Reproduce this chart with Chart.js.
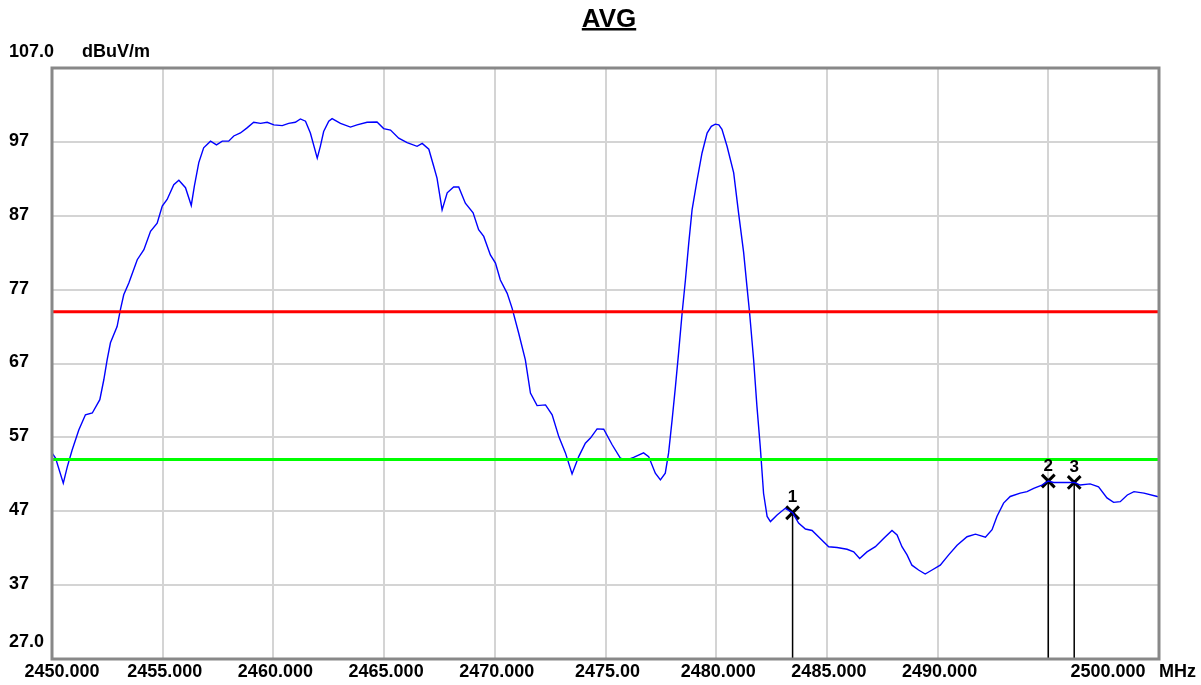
<!DOCTYPE html>
<html>
<head>
<meta charset="utf-8">
<title>AVG</title>
<script src="https://cdn.jsdelivr.net/npm/chart.js@4.4.1/dist/chart.umd.min.js"></script>
<style>
  html, body { margin: 0; padding: 0; background: #fff; }
  #wrap { width: 1201px; height: 685px; }
</style>
</head>
<body>
<div id="wrap"><canvas id="c" width="1201" height="685"></canvas></div>
<script>
// trace (MHz / dBuV/m)
const freqs = [
  2450.00, 2450.16, 2450.51, 2450.69, 2450.91, 2451.21, 2451.51, 2451.82, 2452.16, 2452.34,
  2452.49, 2452.64, 2452.94, 2453.09, 2453.24, 2453.47, 2453.85, 2454.15, 2454.45, 2454.75,
  2454.98, 2455.20, 2455.50, 2455.73, 2456.03, 2456.29, 2456.43, 2456.63, 2456.85, 2457.16,
  2457.43, 2457.69, 2457.98, 2458.21, 2458.51, 2458.81, 2459.11, 2459.42, 2459.72, 2460.02,
  2460.40, 2460.69, 2460.99, 2461.22, 2461.45, 2461.67, 2461.98, 2462.12, 2462.27, 2462.50,
  2462.65, 2463.03, 2463.48, 2463.78, 2464.23, 2464.68, 2464.98, 2465.29, 2465.66, 2466.04,
  2466.49, 2466.72, 2467.02, 2467.24, 2467.39, 2467.62, 2467.85, 2468.14, 2468.37, 2468.67,
  2469.02, 2469.27, 2469.50, 2469.80, 2470.03, 2470.25, 2470.56, 2470.78, 2471.08, 2471.38,
  2471.61, 2471.91, 2472.29, 2472.59, 2472.89, 2473.19, 2473.49, 2473.79, 2474.09, 2474.32,
  2474.62, 2474.92, 2475.30, 2475.67, 2475.97, 2476.27, 2476.72, 2476.95, 2477.25, 2477.48,
  2477.70, 2477.85, 2478.01, 2478.16, 2478.30, 2478.46, 2478.61, 2478.76, 2478.91, 2479.14,
  2479.36, 2479.59, 2479.78, 2479.96, 2480.12, 2480.26, 2480.49, 2480.79, 2481.01, 2481.24,
  2481.39, 2481.51, 2481.69, 2481.84, 2481.99, 2482.14, 2482.30, 2482.45, 2482.75, 2483.12,
  2483.45, 2483.72, 2484.03, 2484.33, 2484.70, 2485.08, 2485.46, 2485.91, 2486.21, 2486.48,
  2486.81, 2487.19, 2487.56, 2487.94, 2488.17, 2488.39, 2488.62, 2488.84, 2489.14, 2489.44,
  2489.75, 2490.12, 2490.50, 2490.88, 2491.33, 2491.71, 2492.16, 2492.46, 2492.68, 2492.98,
  2493.28, 2493.73, 2494.04, 2494.34, 2494.71, 2495.00, 2495.24, 2495.69, 2496.17, 2496.44,
  2496.89, 2497.27, 2497.65, 2497.95, 2498.25, 2498.57, 2498.87, 2499.32, 2499.92, 2500.00
];
const levels = [
  54.9, 54.2, 50.8, 53.0, 55.3, 58.0, 60.05, 60.3, 62.1, 64.8,
  67.5, 69.8, 72.0, 74.3, 76.3, 77.9, 81.05, 82.4, 84.9, 86.0,
  88.3, 89.2, 91.2, 91.8, 90.8, 88.4, 91.0, 94.2, 96.2, 97.1,
  96.6, 97.1, 97.1, 97.8, 98.2, 98.9, 99.65, 99.5, 99.65, 99.3,
  99.2, 99.5, 99.65, 100.1, 99.8, 98.2, 94.8, 96.4, 98.4, 99.8,
  100.15, 99.5, 99.0, 99.3, 99.65, 99.7, 98.8, 98.6, 97.5, 96.9,
  96.4, 96.8, 96.0, 93.7, 92.1, 87.8, 90.1, 90.9, 90.9, 88.7,
  87.4, 85.1, 84.2, 81.7, 80.6, 78.3, 76.5, 74.5, 71.1, 67.5,
  63.0, 61.3, 61.4, 60.05, 57.1, 54.9, 52.05, 54.4, 56.2, 56.9,
  58.15, 58.1, 56.0, 54.2, 53.95, 54.3, 54.9, 54.4, 52.15, 51.25,
  52.15, 54.9, 59.4, 63.9, 68.4, 73.8, 78.3, 83.3, 87.8, 91.9,
  95.5, 98.2, 99.1, 99.4, 99.3, 98.7, 96.4, 92.8, 87.4, 82.0,
  77.4, 73.8, 67.5, 61.2, 55.75, 49.4, 46.3, 45.6, 46.5, 47.4,
  46.8, 45.4, 44.6, 44.4, 43.3, 42.2, 42.1, 41.85, 41.5, 40.6,
  41.5, 42.2, 43.3, 44.4, 43.8, 42.2, 41.1, 39.7, 39.05, 38.5,
  39.05, 39.7, 41.1, 42.4, 43.55, 43.9, 43.5, 44.5, 46.3, 48.1,
  49.0, 49.45, 49.65, 50.1, 50.55, 51.1, 50.9, 50.9, 50.9, 50.55,
  50.7, 50.3, 48.8, 48.2, 48.3, 49.2, 49.65, 49.45, 49.0, 48.9
];

const limitPeak = 74;
const limitAvg = 54;

const markerNames = ['1', '2', '3'];
const markerFreqs = [2483.45, 2495.0, 2496.17];
const markerLevels = [46.8, 51.1, 50.9];

const xTicks = [2450, 2455, 2460, 2465, 2470, 2475, 2480, 2485, 2490, 2495, 2500];
const xTickLabels = ['2450.000', '2455.000', '2460.000', '2465.000', '2470.000', '2475.00',
  '2480.000', '2485.000', '2490.000', '', '2500.000'];
const yTicks = [27, 37, 47, 57, 67, 77, 87, 97, 107];
const yTickLabels = ['27.0', '37', '47', '57', '67', '77', '87', '97', '107.0'];

const xMin = 2450, xMax = 2500, yMin = 27, yMax = 107;

const FONT = '"Liberation Sans", Arial, sans-serif';

const trace = freqs.map((f, i) => ({ x: f, y: levels[i] }));

const datasets = [
  { data: [{ x: xMin, y: limitAvg }, { x: xMax, y: limitAvg }], borderColor: '#00ff00', borderWidth: 3 },
  { data: [{ x: xMin, y: limitPeak }, { x: xMax, y: limitPeak }], borderColor: '#ff0000', borderWidth: 3 },
  { data: trace, borderColor: '#0000ff', borderWidth: 1.4 }
];
markerFreqs.forEach((f, i) => {
  datasets.push({
    data: [{ x: f, y: markerLevels[i] }, { x: f, y: yMin }],
    borderColor: '#000', borderWidth: 1.5,
    pointRadius: [9, 0], pointStyle: 'crossRot', pointBorderWidth: 3,
    pointBorderColor: '#000'
  });
});

const frameAndLabels = {
  id: 'frameAndLabels',
  afterDraw(chart) {
    const { ctx, chartArea: a, scales: { x, y } } = chart;
    ctx.save();
    // frame
    ctx.strokeStyle = '#888888';
    ctx.lineWidth = 3;
    ctx.strokeRect(a.left, a.top, a.right - a.left, a.bottom - a.top);

    // title
    ctx.fillStyle = '#000';
    ctx.font = 'bold 26px ' + FONT;
    ctx.textAlign = 'center';
    ctx.textBaseline = 'alphabetic';
    const tw = ctx.measureText('AVG').width;
    ctx.fillText('AVG', 609, 27);
    ctx.fillRect(609 - tw / 2, 28, tw, 2.5);

    // y tick labels
    ctx.font = 'bold 18px ' + FONT;
    ctx.textAlign = 'left';
    ctx.textBaseline = 'middle';
    yTicks.forEach((v, i) => {
      let py = y.getPixelForValue(v) - 1;
      if (v === yMax) py -= 15;
      if (v === yMin) py -= 16;
      ctx.fillText(yTickLabels[i], 9, py);
    });
    ctx.fillText('dBuV/m', 82, y.getPixelForValue(yMax) - 16);

    // x tick labels
    ctx.textAlign = 'center';
    xTicks.forEach((v, i) => {
      let px = x.getPixelForValue(v) + 2;
      if (i === 0) px += 8;
      if (i === xTicks.length - 1) px -= 53;
      ctx.fillText(xTickLabels[i], px, 672);
    });
    ctx.textAlign = 'left';
    ctx.fillText('MHz', 1159, 672);

    // marker numbers
    ctx.font = 'bold 17px ' + FONT;
    ctx.textAlign = 'center';
    markerFreqs.forEach((f, i) => {
      ctx.fillText(markerNames[i], x.getPixelForValue(f), y.getPixelForValue(markerLevels[i]) - 15);
    });
    ctx.restore();
  }
};

new Chart(document.getElementById('c'), {
  type: 'line',
  data: { datasets },
  options: {
    responsive: false,
    animation: false,
    events: [],
    layout: { padding: { left: 52, top: 68, right: 42, bottom: 26 } },
    elements: { point: { radius: 0 }, line: { tension: 0 } },
    plugins: { legend: { display: false }, tooltip: { enabled: false }, title: { display: false } },
    scales: {
      x: {
        type: 'linear', min: xMin, max: xMax,
        ticks: { display: false, stepSize: 5 },
        grid: { color: '#d4d4d4', lineWidth: 2, drawTicks: false },
        border: { display: false }
      },
      y: {
        type: 'linear', min: yMin, max: yMax,
        ticks: { display: false, stepSize: 10 },
        grid: { color: '#d4d4d4', lineWidth: 2, drawTicks: false },
        border: { display: false }
      }
    }
  },
  plugins: [frameAndLabels]
});
</script>
</body>
</html>
